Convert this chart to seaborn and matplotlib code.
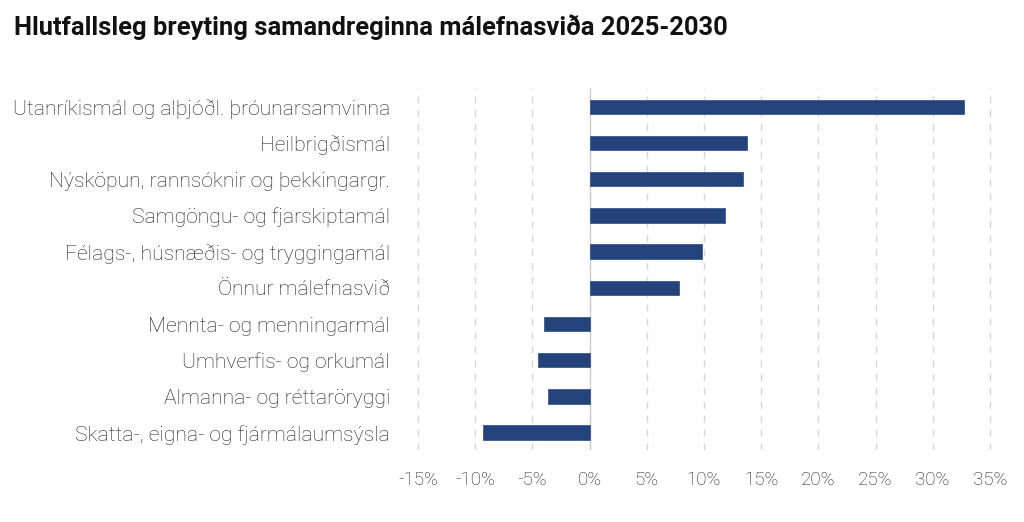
import matplotlib
matplotlib.use("Agg")
import matplotlib.pyplot as plt
import matplotlib.ticker as mticker
import pandas as pd
import seaborn as sns

categories = [
    "Utanríkismál og alþjóðl. þróunarsamvinna",
    "Heilbrigðismál",
    "Nýsköpun, rannsóknir og þekkingargr.",
    "Samgöngu- og fjarskiptamál",
    "Félags-, húsnæðis- og tryggingamál",
    "Önnur málefnasvið",
    "Mennta- og menningarmál",
    "Umhverfis- og orkumál",
    "Almanna- og réttaröryggi",
    "Skatta-, eigna- og fjármálaumsýsla",
]
change_pct = [32.7, 13.8, 13.4, 11.8, 9.8, 7.8, -4.0, -4.5, -3.6, -9.3]
x_ticks = [-15, -10, -5, 0, 5, 10, 15, 20, 25, 30, 35]

df = pd.DataFrame({"svid": categories, "breyting": change_pct})

sns.set_style("white")
plt.rcParams["font.family"] = ["Roboto", "DejaVu Sans"]

fig = plt.figure(figsize=(10.24, 5.22), dpi=100)
ax = fig.add_axes([0.3916, 0.1379, 0.5918, 0.6935])

for t in x_ticks:
    ax.axvline(t, color="#d6d6d6", linestyle=(0, (5, 5)), linewidth=1, zorder=0)
ax.axvline(0, color="#d0d0d0", linestyle="-", linewidth=1, zorder=1)

sns.barplot(data=df, x="breyting", y="svid", color="#24437a", width=0.4,
            saturation=1, edgecolor="#3a5a90", linewidth=0.6, ax=ax, zorder=2)

ax.set_xlim(-16.5, 36.5)
ax.set_ylim(9.48, -0.52)
ax.set_xticks(x_ticks)
ax.xaxis.set_major_formatter(mticker.FuncFormatter(lambda v, _: f"{v:.0f}%"))
ax.set_xlabel("")
ax.set_ylabel("")
ax.tick_params(axis="x", length=0, pad=15, labelsize=13.5, labelcolor="#222222")
ax.tick_params(axis="y", length=0, pad=8, labelsize=15.2, labelcolor="#222222")
for lab in ax.get_xticklabels() + ax.get_yticklabels():
    lab.set_fontweight("light")
sns.despine(ax=ax, left=True, bottom=True)

fig.text(0.014, 0.948, "Hlutfallsleg breyting samandreginna málefnasviða 2025-2030",
         fontsize=18.4, fontweight="bold", color="#111111", va="center", ha="left")

fig.savefig("out.png", dpi=100)
